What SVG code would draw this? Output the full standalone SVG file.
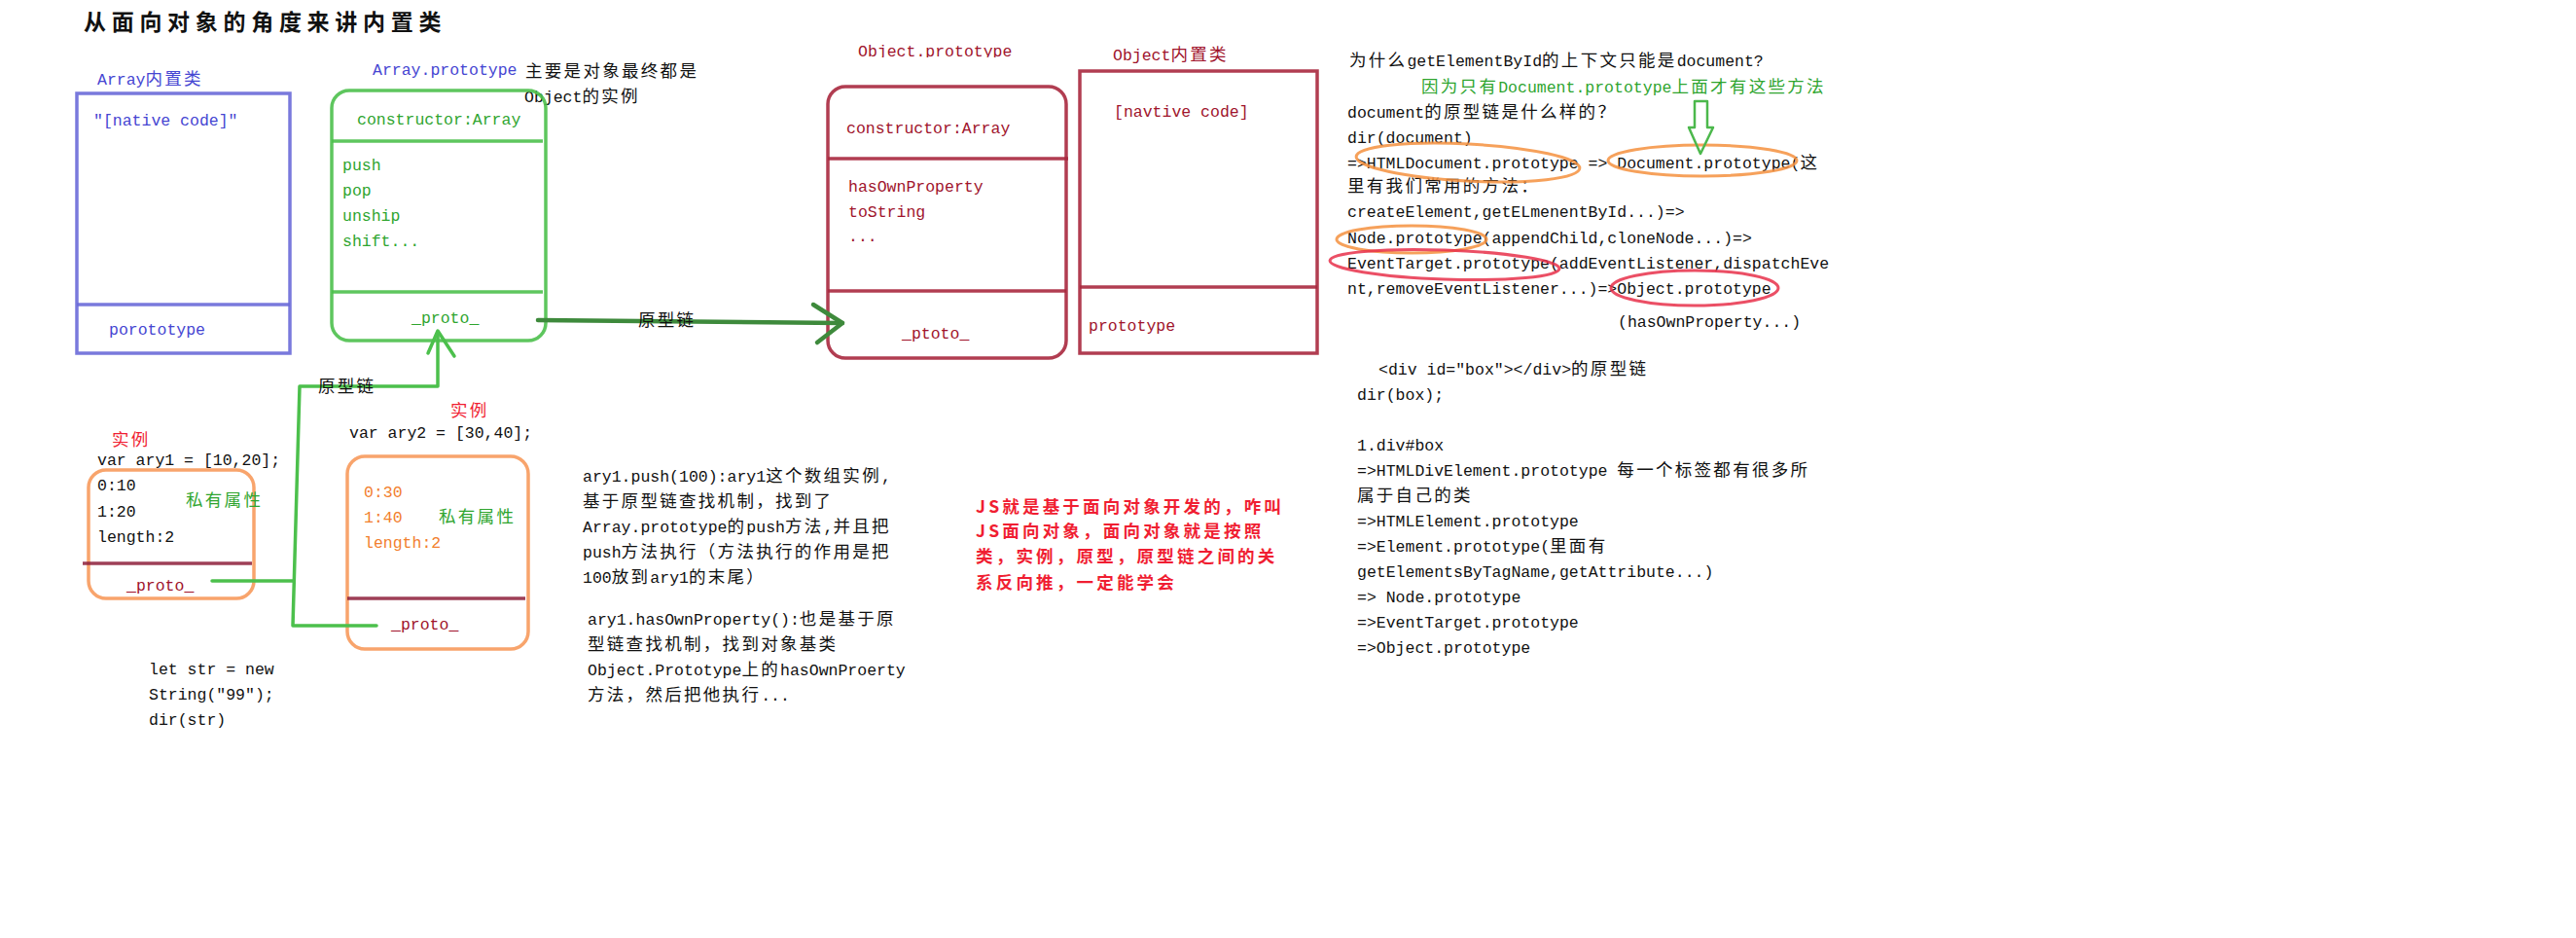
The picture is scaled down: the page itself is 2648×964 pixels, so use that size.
<svg xmlns="http://www.w3.org/2000/svg" width="2648" height="964" viewBox="0 0 2648 964">
<defs>
<style>
text { font-family: "Liberation Mono", "Noto Sans CJK SC", monospace; font-size: 16.5px; fill: #111; }
.k { font-family: "Noto Sans CJK SC", sans-serif; font-size: 17.5px; letter-spacing: 2.3px; }
.title { font-family: "Noto Sans CJK SC", sans-serif; font-size: 23px; font-weight: 700; letter-spacing: 5.7px; }
.blue { fill: #4646d2; }
.green { fill: #2fa52f; }
.dred { fill: #a0142c; }
.red { fill: #f01e32; }
.orange { fill: #f2802e; }
.box-blue { fill: none; stroke: #6a6ad8; stroke-width: 3.5; opacity: 0.9; }
.box-green { fill: none; stroke: #4cc04c; stroke-width: 3.5; opacity: 0.9; }
.box-dred { fill: none; stroke: #a8283e; stroke-width: 3.5; opacity: 0.9; }
.box-orange { fill: none; stroke: #f79a5c; stroke-width: 3.5; opacity: 0.9; }
.div-dred { stroke: #8e1e3a; stroke-width: 3.5; opacity: 0.85; }
.conn { fill: none; stroke: #4cc04c; stroke-width: 3.5; stroke-linecap: round; stroke-linejoin: round; }
.conn-dark { fill: none; stroke: #3e8a3c; stroke-width: 4.5; stroke-linecap: round; stroke-linejoin: round; }
.note { font-family: "Noto Sans CJK SC", sans-serif; font-size: 17.5px; font-weight: 700; letter-spacing: 3.2px; fill: #f01e32; }
.ell-o { fill: none; stroke: #f5903e; stroke-width: 3; opacity: 0.85; }
.ell-r { fill: none; stroke: #e8304a; stroke-width: 3; opacity: 0.85; }
</style>
<clipPath id="clipObjLbl"><rect x="860" y="30" width="220" height="29"/></clipPath>
</defs>
<rect width="2648" height="964" fill="#ffffff"/>

<g id="title">
<text class="title" x="86" y="31">从面向对象的角度来讲内置类</text>
</g>

<g id="array-class">
<text class="blue" x="100" y="87">Array<tspan class="k">内置类</tspan></text>
<rect class="box-blue" x="79" y="96" width="219" height="267"/>
<line class="box-blue" x1="79" y1="313" x2="298" y2="313"/>
<text class="blue" x="96" y="129">"[native code]"</text>
<text class="blue" x="112" y="344">porototype</text>
</g>

<g id="array-prototype">
<text class="blue" x="383" y="77">Array.prototype</text>
<text x="540" y="79"><tspan class="k">主要是对象最终都是</tspan></text>
<text x="539" y="105">Object<tspan class="k">的实例</tspan></text>
<rect class="box-green" x="341" y="93" width="220" height="257" rx="18"/>
<line class="box-green" x1="341" y1="145" x2="558" y2="145"/>
<line class="box-green" x1="341" y1="300" x2="558" y2="300"/>
<text class="green" x="367" y="128">constructor:Array</text>
<text class="green" x="352" y="175">push</text>
<text class="green" x="352" y="201">pop</text>
<text class="green" x="352" y="227">unship</text>
<text class="green" x="352" y="253">shift...</text>
<text class="green" x="423" y="332">_proto_</text>
</g>

<g id="object-prototype">
<text class="dred" x="882" y="58" clip-path="url(#clipObjLbl)">Object.prototype</text>
<rect class="box-dred" x="851" y="89" width="245" height="279" rx="18"/>
<line class="box-dred" x1="851" y1="163" x2="1098" y2="163"/>
<line class="box-dred" x1="851" y1="299" x2="1096" y2="299"/>
<text class="dred" x="870" y="137">constructor:Array</text>
<text class="dred" x="872" y="197">hasOwnProperty</text>
<text class="dred" x="872" y="223">toString</text>
<text class="dred" x="872" y="248">...</text>
<text class="dred" x="927" y="348">_ptoto_</text>
</g>

<g id="object-class">
<text class="dred" x="1144" y="62">Object<tspan class="k">内置类</tspan></text>
<rect class="box-dred" x="1110" y="73" width="244" height="290"/>
<line class="box-dred" x1="1110" y1="295" x2="1354" y2="295"/>
<text class="dred" x="1145" y="120">[navtive code]</text>
<text class="dred" x="1119" y="340">prototype</text>
</g>

<g id="ary1">
<text class="red" x="115" y="458"><tspan class="k">实例</tspan></text>
<text x="100" y="478">var  ary1 = [10,20];</text>
<rect class="box-orange" x="91" y="483" width="170" height="132" rx="18"/>
<line class="div-dred" x1="85" y1="579" x2="259" y2="579"/>
<text x="100" y="504">0:10</text>
<text x="100" y="531">1:20</text>
<text x="100" y="557">length:2</text>
<text class="green" x="191" y="520"><tspan class="k">私有属性</tspan></text>
<text class="dred" x="130" y="607">_proto_</text>
</g>

<g id="ary2">
<text class="red" x="463" y="428"><tspan class="k">实例</tspan></text>
<text x="359" y="450">var  ary2 = [30,40];</text>
<rect class="box-orange" x="357" y="469" width="186" height="198" rx="18"/>
<line class="div-dred" x1="357" y1="615" x2="540" y2="615"/>
<text class="orange" x="374" y="511">0:30</text>
<text class="orange" x="374" y="537">1:40</text>
<text class="orange" x="374" y="563">length:2</text>
<text class="green" x="451" y="537"><tspan class="k">私有属性</tspan></text>
<text class="dred" x="402" y="647">_proto_</text>
</g>

<g id="str-code">
<text x="153" y="693">let  str = new</text>
<text x="153" y="719">String("99");</text>
<text x="153" y="745">dir(str)</text>
</g>

<g id="push-note">
<text x="599" y="495">ary1.push(100):ary1<tspan class="k">这个数组实例</tspan>,</text>
<text x="599" y="521"><tspan class="k">基于原型链查找机制，找到了</tspan></text>
<text x="599" y="547">Array.prototype<tspan class="k">的</tspan>push<tspan class="k">方法</tspan>,<tspan class="k">并且把</tspan></text>
<text x="599" y="573">push<tspan class="k">方法执行（方法执行的作用是把</tspan></text>
<text x="599" y="599">100<tspan class="k">放到</tspan>ary1<tspan class="k">的末尾）</tspan></text>
<text x="604" y="642">ary1.hasOwnProperty():<tspan class="k">也是基于原</tspan></text>
<text x="604" y="668"><tspan class="k">型链查找机制，找到对象基类</tspan></text>
<text x="604" y="694">Object.Prototype<tspan class="k">上的</tspan>hasOwnProerty</text>
<text x="604" y="720"><tspan class="k">方法，然后把他执行</tspan>...</text>
</g>

<g id="red-note">
<text class="note" x="1003" y="527">JS就是基于面向对象开发的，咋叫</text>
<text class="note" x="1003" y="552">JS面向对象，面向对象就是按照</text>
<text class="note" x="1003" y="578">类，实例，原型，原型链之间的关</text>
<text class="note" x="1003" y="605">系反向推，一定能学会</text>
</g>

<g id="document-chain">
<text x="1387" y="68"><tspan class="k">为什么</tspan>getElementById<tspan class="k">的上下文只能是</tspan>document?</text>
<text class="green" x="1461" y="95"><tspan class="k">因为只有</tspan>Document.prototype<tspan class="k">上面才有这些方法</tspan></text>
<text x="1385" y="121">document<tspan class="k">的原型链是什么样的？</tspan></text>
<text x="1385" y="147">dir(document)</text>
<text x="1385" y="173">=&gt;HTMLDocument.prototype =&gt; Document.prototype(<tspan class="k">这</tspan></text>
<text x="1385" y="197"><tspan class="k">里有我们常用的方法：</tspan></text>
<text x="1385" y="223">createElement,getELmenentById...)=&gt;</text>
<text x="1385" y="250">Node.prototype(appendChild,cloneNode...)=&gt;</text>
<text x="1385" y="276">EventTarget.prototype(addEventListener,dispatchEve</text>
<text x="1385" y="302">nt,removeEventListener...)=&gt;Object.prototype</text>
<text x="1663" y="336">(hasOwnProperty...)</text>
<ellipse class="ell-o" cx="1509" cy="167" rx="115" ry="19" transform="rotate(3 1509 167)"/>
<ellipse class="ell-o" cx="1750" cy="165" rx="97" ry="16"/>
<ellipse class="ell-o" cx="1451" cy="246" rx="77" ry="14"/>
<ellipse class="ell-r" cx="1485" cy="272" rx="118" ry="15" transform="rotate(2 1485 272)"/>
<ellipse class="ell-r" cx="1742" cy="296" rx="86" ry="18"/>
<polygon points="1742,104 1755,104 1755,131 1761,131 1748,158 1736,131 1742,131" fill="none" stroke="#4cb84c" stroke-width="2.5" stroke-linejoin="round"/>
</g>

<g id="div-chain">
<text x="1417" y="385">&lt;div id="box"&gt;&lt;/div&gt;<tspan class="k">的原型链</tspan></text>
<text x="1395" y="411">dir(box);</text>
<text x="1395" y="463">1.div#box</text>
<text x="1395" y="489">=&gt;HTMLDivElement.prototype  <tspan class="k">每一个标签都有很多所</tspan></text>
<text x="1395" y="515"><tspan class="k">属于自己的类</tspan></text>
<text x="1395" y="541">=&gt;HTMLElement.prototype</text>
<text x="1395" y="567">=&gt;Element.prototype(<tspan class="k">里面有</tspan></text>
<text x="1395" y="593">getElementsByTagName,getAttribute...)</text>
<text x="1395" y="619">=&gt; Node.prototype</text>
<text x="1395" y="645">=&gt;EventTarget.prototype</text>
<text x="1395" y="671">=&gt;Object.prototype</text>
</g>

<g id="connectors">
<path class="conn-dark" d="M553,329 L866,332"/>
<path class="conn-dark" d="M836,313 L866,332 L840,352"/>
<text x="656" y="335"><tspan class="k">原型链</tspan></text>
<path class="conn" d="M218,597 L301,597"/>
<path class="conn" d="M387,643 L301,643 L308,397 L450,397 L450,342"/>
<path class="conn" d="M440,363 L450,340 L467,366"/>
<text x="327" y="403"><tspan class="k">原型链</tspan></text>
</g>
</svg>
